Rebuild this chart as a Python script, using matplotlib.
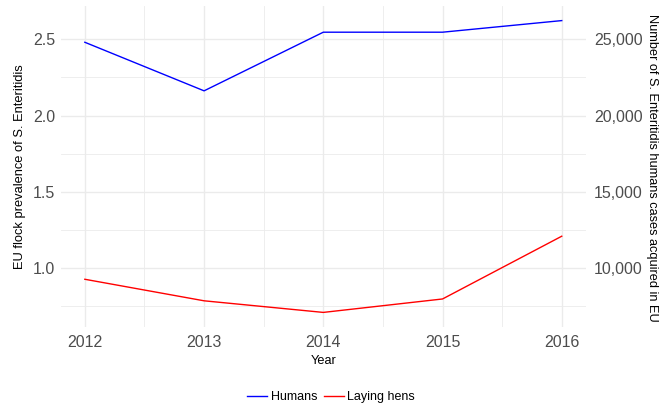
import matplotlib
matplotlib.use("Agg")
import matplotlib.pyplot as plt
from matplotlib.lines import Line2D
from matplotlib.ticker import FuncFormatter, MultipleLocator

plt.rcParams['font.family'] = ['Liberation Sans', 'DejaVu Sans']

years = [2012, 2013, 2014, 2015, 2016]
humans = [24800, 21620, 25460, 25460, 26220]
laying_hens = [0.928, 0.787, 0.711, 0.799, 1.21]
scale = 10000.0

left_ticks = [1.0, 1.5, 2.0, 2.5]
right_ticks = [10000, 15000, 20000, 25000]

W, H = 662, 407
fig = plt.figure(figsize=(W / 100, H / 100), dpi=100)
ax = fig.add_axes([61 / W, 1 - 327 / H, (585.6 - 61) / W, (327 - 6) / H])

allv = laying_hens + [h / scale for h in humans]
lo, hi = min(allv), max(allv)
pad = 0.05 * (hi - lo)
ax.set_ylim(lo - pad, hi + pad)
ax.set_xlim(years[0] - 0.05 * (years[-1] - years[0]), years[-1] + 0.05 * (years[-1] - years[0]))

grid_c = '#EBEBEB'
ax.set_yticks(left_ticks)
ax.set_yticklabels([f"{t:.1f}" for t in left_ticks])
ax.yaxis.set_minor_locator(MultipleLocator(0.25))
ax.set_xticks(years)
ax.set_xticklabels([str(y) for y in years])
ax.xaxis.set_minor_locator(MultipleLocator(0.5))
ax.grid(True, which='major', color=grid_c, lw=1.0)
ax.grid(True, which='minor', color=grid_c, lw=0.6)
ax.set_axisbelow(True)
for s in ax.spines.values():
    s.set_visible(False)
ax.tick_params(which='both', length=0)
ax.tick_params(axis='both', labelsize=11.5, labelcolor='#4D4D4D')
ax.tick_params(axis='x', pad=6)
ax.tick_params(axis='y', pad=4)

ax.plot(years, laying_hens, color='red', lw=1.0)

ax2 = ax.twinx()
y0, y1 = ax.get_ylim()
ax2.set_ylim(y0 * scale, y1 * scale)
ax2.set_yticks(right_ticks)
ax2.yaxis.set_major_formatter(FuncFormatter(lambda v, p: f"{int(v):,}"))
for s in ax2.spines.values():
    s.set_visible(False)
ax2.tick_params(length=0, labelsize=11.5, labelcolor='#4D4D4D', pad=6)
ax2.plot(years, humans, color='blue', lw=1.0)

ax.set_xlabel('Year', fontsize=9.2, labelpad=3)
ax.set_ylabel('EU flock prevalence of S. Enteritidis', fontsize=9.3, labelpad=5)
fig.text(652 / W, 1 - 168 / H, 'Number of S. Enteritidis humans cases acquired in EU',
         fontsize=9.2, rotation=270, ha='center', va='center')

handles = [Line2D([], [], color='blue', lw=1.0), Line2D([], [], color='red', lw=1.0)]
fig.legend(handles, ['Humans', 'Laying hens'], loc='center', bbox_to_anchor=(0.5, 1 - 397 / H),
           ncol=2, frameon=False, fontsize=9, handlelength=1.6, handletextpad=0.3,
           columnspacing=0.5)

fig.savefig('out.png', dpi=100)
